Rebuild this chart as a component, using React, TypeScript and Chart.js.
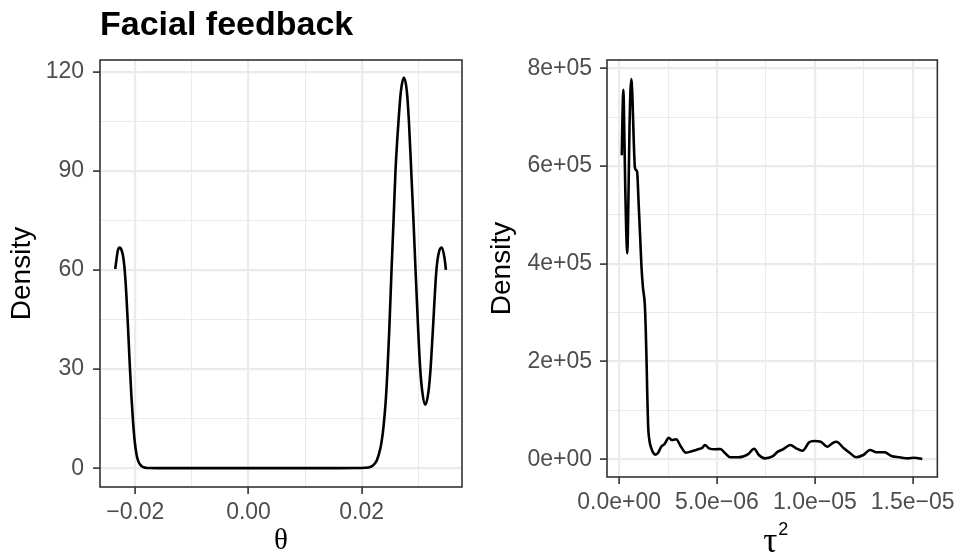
import React, { useEffect, useRef } from 'react';
import { Chart, registerables } from 'chart.js';
Chart.register(...registerables);

// ---------- data ----------
const chartTitle = 'Facial feedback';

const thetaValues = [
  -0.02355, -0.0233, -0.0231, -0.02279, -0.0225, -0.0222, -0.0219, -0.0216, -0.0213, -0.021,
  -0.0207, -0.0204, -0.0201, -0.0198, -0.0195, -0.0191, -0.0187, -0.0182, -0.0175, -0.016,
  -0.01, 0, 0.01, 0.016, 0.019, 0.0205, 0.0215, 0.0221, 0.0227, 0.0233,
  0.0236, 0.02385, 0.02427, 0.02456, 0.02486, 0.02527, 0.02562, 0.02597, 0.0265, 0.02692, 0.02745,
  0.02798, 0.02834, 0.02875, 0.02915, 0.02951, 0.02999, 0.03034, 0.0307, 0.03122, 0.0318,
  0.03216, 0.03256, 0.0332, 0.03367, 0.03417, 0.03463, 0.03488,
];
const thetaDensity = [
  60.3, 63.5, 65.8, 66.8, 66.3, 64.5, 60.5, 53, 43, 32,
  22, 14, 8, 4.3, 2.2, 1.0, 0.4, 0.15, 0.05, 0.01,
  0, 0, 0, 0.01, 0.05, 0.12, 0.35, 1.0, 2.5, 6,
  9, 12.5, 21, 30, 41.4, 60, 74.7, 90, 105, 114, 118.2,
  114, 105, 90, 74.7, 60, 41.4, 30, 23.2, 19.2, 23.2,
  30, 41.4, 60, 65.6, 66.8, 63.6, 60,
];

const tau2Values = [
  1.36e-7, 1.7e-7, 2.17e-7, 2.6e-7, 3.1e-7, 3.6e-7, 4.18e-7, 4.7e-7, 5.3e-7, 6.2e-7,
  6.8e-7, 7.4e-7, 8.06e-7, 8.6e-7, 9.2e-7, 1.0e-6, 1.08e-6, 1.14e-6, 1.22e-6, 1.31e-6,
  1.36e-6, 1.4e-6, 1.44e-6, 1.48e-6, 1.55e-6, 1.65e-6, 1.75e-6, 1.87e-6, 2.0e-6, 2.15e-6,
  2.32e-6, 2.54e-6, 2.69e-6, 2.91e-6, 3.16e-6, 3.41e-6, 3.75e-6, 4.07e-6, 4.25e-6, 4.38e-6,
  4.59e-6, 4.92e-6, 5.17e-6, 5.42e-6, 5.68e-6, 6.1e-6, 6.6e-6, 6.9e-6, 7.14e-6, 7.44e-6,
  7.86e-6, 8.11e-6, 8.37e-6, 8.75e-6, 9.04e-6, 9.37e-6, 9.71e-6, 9.96e-6, 1.03e-5, 1.063e-5,
  1.089e-5, 1.11e-5, 1.148e-5, 1.181e-5, 1.211e-5, 1.248e-5, 1.282e-5, 1.315e-5, 1.357e-5, 1.391e-5,
  1.433e-5, 1.475e-5, 1.509e-5, 1.549e-5,
];
const tau2Density = [
  622000, 700000, 756000, 680000, 560000, 470000, 421500, 520000, 680000, 778000,
  740000, 660000, 597000, 592000, 588000, 520000, 450000, 395000, 350000, 318000,
  265000, 203000, 130000, 70000, 38000, 22000, 13000, 9500, 14000, 25800,
  31300, 44200, 39500, 40900, 25800, 13500, 17000, 21100, 23700, 29300,
  22500, 20500, 21100, 12300, 4100, 4100, 10800, 21700, 8800, 2000,
  6700, 15600, 20500, 29300, 22500, 17600, 34800, 37400, 36000, 25800,
  32700, 36000, 22500, 12300, 4100, 8800, 19000, 14300, 14300, 6700,
  4100, 2000, 3300, 500,
];

const thetaMajorTicks = [-0.02, 0, 0.02];
const thetaTickLabels = ['\u22120.02', '0.00', '0.02'];
const thetaMinorTicks = [-0.01, 0.01, 0.03];
const thetaDensMajorTicks = [0, 30, 60, 90, 120];
const thetaDensTickLabels = ['0', '30', '60', '90', '120'];
const thetaDensMinorTicks = [15, 45, 75, 105];

const tau2MajorTicks = [0, 5e-6, 1e-5, 1.5e-5];
const tau2TickLabels = ['0.0e+00', '5.0e\u221206', '1.0e\u221205', '1.5e\u221205'];
const tau2MinorTicks = [2.5e-6, 7.5e-6, 1.25e-5];
const tauDensMajorTicks = [0, 2e5, 4e5, 6e5, 8e5];
const tauDensTickLabels = ['0e+00', '2e+05', '4e+05', '6e+05', '8e+05'];
const tauDensMinorTicks = [1e5, 3e5, 5e5, 7e5];

// ---------- styling helpers ----------
const SANS = '"Liberation Sans", Arial, Helvetica, sans-serif';
const SERIF = '"Liberation Serif", "Times New Roman", serif';

function makeAxis(major: number[], labels: string[], minor: number[], min: number, max: number, fit: (s: any) => void, extra: any = {}) {
  const all = [...major, ...minor].sort((a, b) => a - b);
  const isMajor = (v: number) => major.indexOf(v) >= 0;
  return {
    type: 'linear',
    min,
    max,
    afterBuildTicks: (scale: any) => {
      scale.ticks = all.map((v) => ({ value: v }));
    },
    afterFit: fit,
    ticks: {
      autoSkip: false,
      maxRotation: 0,
      minRotation: 0,
      color: '#4D4D4D',
      font: { family: SANS, size: 23 },
      padding: extra.tickPadding ?? 6,
      callback: (v: number) => {
        const i = major.indexOf(v);
        return i >= 0 ? labels[i] : '';
      },
    },
    grid: {
      color: '#EBEBEB',
      lineWidth: (ctx: any) => (ctx.tick && isMajor(ctx.tick.value) ? 2.2 : 1.1),
      tickColor: (ctx: any) => (ctx.tick && isMajor(ctx.tick.value) ? '#333333' : 'rgba(0,0,0,0)'),
      tickLength: 7,
      tickWidth: 1.6,
      drawTicks: true,
    },
    border: { display: false },
    title: extra.title ?? { display: false },
  };
}

const panelBorder = {
  id: 'panelBorder',
  afterDraw(chart: any) {
    const { ctx, chartArea } = chart;
    const { left, top, right, bottom } = chartArea;
    ctx.save();
    ctx.strokeStyle = '#333333';
    ctx.lineWidth = 1.6;
    ctx.strokeRect(left, top, right - left, bottom - top);
    ctx.restore();
  },
};

const titlePlugin = {
  id: 'ggTitle',
  afterDraw(chart: any) {
    const { ctx, chartArea } = chart;
    ctx.save();
    ctx.font = `bold 34px ${SANS}`;
    ctx.fillStyle = '#000000';
    ctx.textBaseline = 'alphabetic';
    ctx.textAlign = 'left';
    ctx.fillText(chartTitle, chartArea.left, 35);
    ctx.restore();
  },
};

const tauLabelPlugin = {
  id: 'tauLabel',
  afterDraw(chart: any) {
    const { ctx, chartArea } = chart;
    const cx = (chartArea.left + chartArea.right) / 2;
    ctx.save();
    ctx.fillStyle = '#000000';
    ctx.textBaseline = 'alphabetic';
    ctx.font = `35px ${SERIF}`;
    ctx.textAlign = 'center';
    ctx.fillText('\u03C4', cx - 2, 552);
    ctx.font = `18px ${SANS}`;
    ctx.textAlign = 'left';
    ctx.fillText('2', cx + 6, 535);
    ctx.restore();
  },
};

function densityTitle(pad: number) {
  return {
    display: true,
    text: 'Density',
    color: '#000000',
    font: { family: SANS, size: 28 },
    padding: { top: pad, bottom: 0 },
  };
}

export default function App() {
  const leftRef = useRef<HTMLCanvasElement>(null);
  const rightRef = useRef<HTMLCanvasElement>(null);

  useEffect(() => {
    const leftData = thetaValues.map((x, i) => ({ x, y: thetaDensity[i] }));
    const rightData = tau2Values.map((x, i) => ({ x, y: tau2Density[i] }));

    const common = (data: any[]) => ({
      datasets: [
        {
          data,
          borderColor: '#000000',
          borderWidth: 2.6,
          pointRadius: 0,
          fill: false,
          cubicInterpolationMode: 'monotone',
        },
      ],
    });

    const left = new Chart(leftRef.current as HTMLCanvasElement, {
      type: 'line',
      data: common(leftData) as any,
      options: {
        responsive: false,
        animation: false,
        devicePixelRatio: 1,
        layout: { padding: { top: 60, right: 18, left: 0, bottom: 0 } },
        plugins: { legend: { display: false }, tooltip: { enabled: false } },
        scales: {
          x: makeAxis(thetaMajorTicks, thetaTickLabels, thetaMinorTicks, -0.02624, 0.03772, (s: any) => { s.height = 73; }, {
            tickPadding: 5,
            title: { display: true, text: '\u03B8', color: '#000000', font: { family: SERIF, size: 29 }, padding: { top: 0, bottom: 1 } },
          }),
          y: makeAxis(thetaDensMajorTicks, thetaDensTickLabels, thetaDensMinorTicks, -5.7, 123.55, (s: any) => { s.width = 100; }, {
            tickPadding: 9,
            title: densityTitle(5),
          }),
        } as any,
      },
      plugins: [panelBorder, titlePlugin],
    });

    const right = new Chart(rightRef.current as HTMLCanvasElement, {
      type: 'line',
      data: common(rightData) as any,
      options: {
        responsive: false,
        animation: false,
        devicePixelRatio: 1,
        layout: { padding: { top: 60, right: 19, left: 0, bottom: 0 } },
        plugins: { legend: { display: false }, tooltip: { enabled: false } },
        scales: {
          x: makeAxis(tau2MajorTicks, tau2TickLabels, tau2MinorTicks, -6.2e-7, 1.626e-5, (s: any) => { s.height = 83; }, {
            tickPadding: 5,
          }),
          y: makeAxis(tauDensMajorTicks, tauDensTickLabels, tauDensMinorTicks, -36200, 817000, (s: any) => { s.width = 127; }, {
            tickPadding: 8,
            title: densityTitle(5),
          }),
        } as any,
      },
      plugins: [panelBorder, tauLabelPlugin],
    });

    return () => {
      left.destroy();
      right.destroy();
    };
  }, []);

  return (
    <div style={{ position: 'absolute', left: 0, top: 0, width: 961, height: 560, background: '#FFFFFF', overflow: 'hidden' }}>
      <canvas ref={leftRef} width={480} height={560} style={{ position: 'absolute', left: 0, top: 0 }} />
      <canvas ref={rightRef} width={481} height={560} style={{ position: 'absolute', left: 480, top: 0 }} />
    </div>
  );
}
